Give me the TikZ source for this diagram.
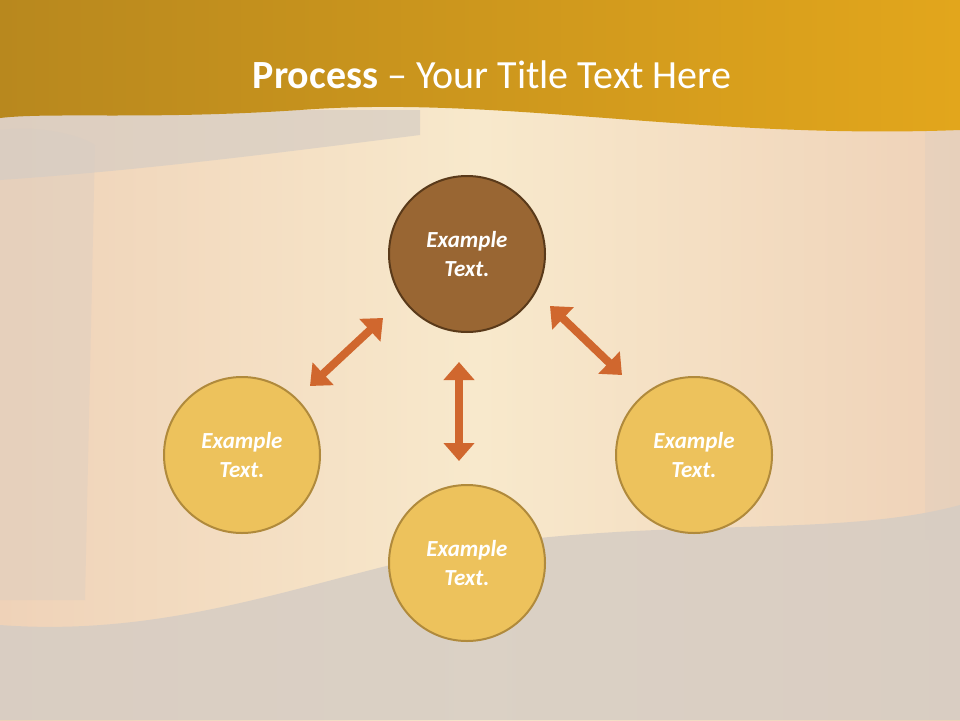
\documentclass[tikz,border=0pt]{standalone}
\usepackage{fontspec}
\setmainfont{Carlito}
\usetikzlibrary{arrows.meta}
\definecolor{bgmid}{HTML}{F8E9CC}
\definecolor{bgside}{HTML}{EFD2B8}
\definecolor{bggrey}{HTML}{D6CDC4}
\definecolor{goldA}{HTML}{B8881E}
\definecolor{goldB}{HTML}{E2A61C}
\definecolor{brownC}{HTML}{996633}
\definecolor{brownB}{HTML}{5A3A1A}
\definecolor{yelC}{HTML}{EDC25C}
\definecolor{yelB}{HTML}{B08A3C}
\definecolor{arr}{HTML}{D0672E}
\tikzset{
  circ/.style={circle,minimum size=156pt,line width=2pt,text=white,font=\bfseries\itshape\fontsize{23}{29}\selectfont,align=center},
  dark/.style={circ,fill=brownC,draw=brownB},
  light/.style={circ,fill=yelC,draw=yelB},
  dbl/.style={line width=8pt,draw=arr,{Triangle[length=18pt,width=30pt]}-{Triangle[length=18pt,width=30pt]}}
}
\begin{document}
\begin{tikzpicture}[x=1pt,y=-1pt]
\useasboundingbox (0,0) rectangle (960,720);
% background
\shade[left color=bgside,right color=bgside,middle color=bgmid] (0,0) rectangle (960,720);
\fill[bggrey,opacity=0.7] (0,110) -- (0,180) .. controls (150,170) and (300,150) .. (420,135) -- (420,110) -- cycle;
\fill[bggrey,opacity=0.35] (0,130) .. controls (40,125) and (80,135) .. (95,145) -- (85,600) -- (0,600) -- cycle;
\fill[bggrey,opacity=0.3] (925,120) rectangle (960,540);
\fill[bggrey,opacity=0.85] (0,720) -- (0,625) .. controls (200,640) and (350,560) .. (520,540) .. controls (700,520) and (850,535) .. (960,505) -- (960,720) -- cycle;
% banner
\shade[left color=goldA,right color=goldB] (0,0) -- (960,0) -- (960,130) .. controls (700,140) and (500,95) .. (300,110) .. controls (150,120) and (50,112) .. (0,118) -- cycle;
\node[text=white,font=\fontsize{40}{46}\selectfont] (title) at (492,75) {\textbf{Process} – Your Title Text Here};
% circles
\node[dark] (top) at (467,254) {Example\\Text.};
\node[light] (left) at (242,455) {Example\\Text.};
\node[light] (bot) at (467,563) {Example\\Text.};
\node[light] (right) at (694,455) {Example\\Text.};
% arrows
\coordinate (a1) at (383,318); \coordinate (a2) at (310,386);
\coordinate (b1) at (459,362); \coordinate (b2) at (459,461);
\coordinate (c1) at (550,306); \coordinate (c2) at (622,375);
\draw[dbl] (a1) -- (a2);
\draw[dbl] (b1) -- (b2);
\draw[dbl] (c1) -- (c2);
\end{tikzpicture}
\end{document}
